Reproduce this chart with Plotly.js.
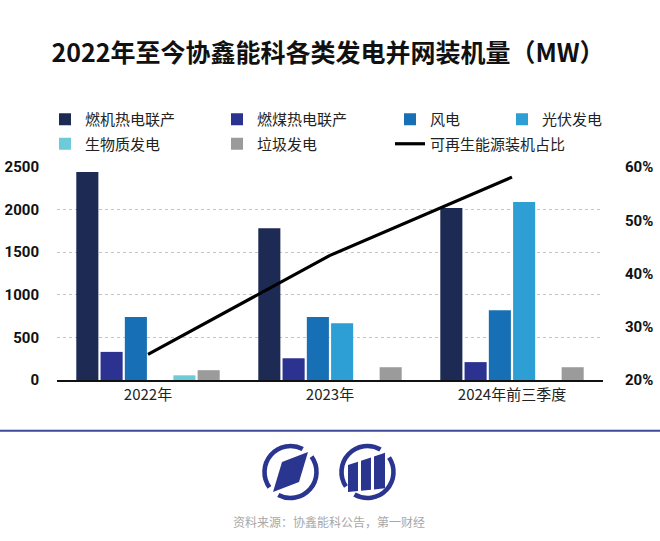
<!DOCTYPE html>
<html>
<head>
<meta charset="utf-8">
<script src="https://cdn.plot.ly/plotly-3.0.1.min.js"></script>
<style>
html,body{margin:0;padding:0;background:#fff;}
#chart{width:660px;height:541px;}
</style>
</head>
<body>
<div id="chart"></div>
<script>
// ---- data ----
const categories = ["2022年", "2023年", "2024年前三季度"];
const gasCHP   = [2440, 1780, 2020];   // 燃机热电联产
const coalCHP  = [330, 255, 210];      // 燃煤热电联产
const wind     = [740, 740, 820];      // 风电
const solar    = [null, 665, 2090];    // 光伏发电
const biomass  = [55, null, null];     // 生物质发电
const waste    = [115, 150, 150];      // 垃圾发电
const renewShare = [24.8, 43.4, 58.1]; // 可再生能源装机占比 (%)
const seriesNames = ["燃机热电联产", "燃煤热电联产", "风电", "光伏发电", "生物质发电", "垃圾发电", "可再生能源装机占比"];
const leftTicks = [0, 500, 1000, 1500, 2000, 2500];
const rightTicks = [20, 30, 40, 50, 60];
const rightTickLabels = ["20%", "30%", "40%", "50%", "60%"];

// ---- styling ----
const colors = ["#1d2a54", "#2b3290", "#1770b5", "#2e9fd5", "#6dcbd9", "#9b9b9b"];
const cjk = '"Noto Sans CJK SC", "Noto Sans", sans-serif';
const seriesValues = [gasCHP, coalCHP, wind, solar, biomass, waste];
const legendOf = ["legend", "legend2", "legend3", "legend4", "legend", "legend2"];

const traces = seriesValues.map((vals, i) => ({
  type: "bar",
  name: seriesNames[i],
  x: categories,
  y: vals,
  marker: {color: colors[i]},
  legend: legendOf[i],
  legendgroup: "g" + i,
  hoverinfo: "x+y+name"
}));
traces.push({
  type: "scatter",
  mode: "lines",
  name: seriesNames[6],
  x: categories,
  y: renewShare,
  yaxis: "y2",
  line: {color: "#000000", width: 3.2},
  legend: "legend3",
  legendgroup: "g6"
});

// ---- logo images (decorative) ----
function ring(gapA, gapB, half) {
  const r = 26, c = 30;
  const pt = a => [c + r * Math.cos(a * Math.PI / 180), c + r * Math.sin(a * Math.PI / 180)];
  const arc = (a1, a2) => {
    const p1 = pt(a1), p2 = pt(a2);
    const large = ((a2 - a1 + 360) % 360) > 180 ? 1 : 0;
    return `M${p1[0].toFixed(2)},${p1[1].toFixed(2)} A${r},${r} 0 ${large} 1 ${p2[0].toFixed(2)},${p2[1].toFixed(2)}`;
  };
  return arc(gapA + half, gapB - half) + " " + arc(gapB + half, gapA + 360 - half);
}
const navy = "#2a3590";
const logo1 = `<svg xmlns="http://www.w3.org/2000/svg" width="60" height="60" viewBox="0 0 60 60">
<path d="${ring(-49, 131, 13)}" fill="none" stroke="${navy}" stroke-width="4.6"/>
<path d="M21.5,20 L47.5,10 L38.5,40 L12.5,50 Z" fill="${navy}"/>
</svg>`;
const logo2 = `<svg xmlns="http://www.w3.org/2000/svg" width="60" height="60" viewBox="0 0 60 60">
<path d="${ring(-47, 133, 13)}" fill="none" stroke="${navy}" stroke-width="4.6"/>
<path d="M10.5,23 L20.5,19.7 L20.5,49 L10.5,50 Z" fill="${navy}"/>
<path d="M23.5,18.7 L33.5,15.4 L33.5,47.7 L23.5,48.7 Z" fill="${navy}"/>
<path d="M36.5,14.4 L47.5,10.8 L47.5,46.3 L36.5,47.4 Z" fill="${navy}"/>
</svg>`;
const svgUri = s => "data:image/svg+xml;charset=utf-8," + encodeURIComponent(s);

// pixel helpers for decorative placement (plot area: x 57..603, y 167..380)
const L = 57, R = 603, T = 167, B = 380;
const px = x => (x - L) / (R - L);
const py = y => (B - y) / (B - T);

const legendBase = {
  orientation: "v",
  xanchor: "left",
  yanchor: "top",
  bgcolor: "rgba(0,0,0,0)",
  borderwidth: 0,
  font: {family: cjk, size: 15, color: "#222222"},
  tracegroupgap: 2,
  traceorder: "grouped",
  y: py(103)
};

const layout = {
  width: 660,
  height: 541,
  margin: {l: L, r: 660 - R, t: T, b: 541 - B, pad: 0},
  paper_bgcolor: "#ffffff",
  plot_bgcolor: "#ffffff",
  font: {family: cjk, color: "#222222"},
  title: {
    text: "2022年至今协鑫能科各类发电并网装机量（MW）",
    font: {family: cjk, size: 25, weight: 700, color: "#111111"},
    x: 0.497, xref: "container", xanchor: "center",
    y: 1 - 53 / 541, yref: "container", yanchor: "middle"
  },
  barmode: "group",
  bargap: 0.2,
  bargroupgap: 0.09,
  showlegend: true,
  legend:  Object.assign({}, legendBase, {x: px(45)}),
  legend2: Object.assign({}, legendBase, {x: px(217)}),
  legend3: Object.assign({}, legendBase, {x: px(390)}),
  legend4: Object.assign({}, legendBase, {x: px(502)}),
  xaxis: {
    type: "category",
    showline: true,
    linecolor: "#111111",
    linewidth: 1.5,
    ticks: "",
    showgrid: false,
    zeroline: false,
    tickfont: {family: cjk, size: 15, color: "#222222"},
    fixedrange: true
  },
  yaxis: {
    range: [0, 2500],
    tickmode: "array",
    tickvals: leftTicks,
    showgrid: true,
    gridcolor: "#c4c4c4",
    gridwidth: 1,
    griddash: "3px,3px",
    zeroline: false,
    showline: false,
    ticks: "",
    ticklabelstandoff: 17,
    tickfont: {family: "Roboto, sans-serif", size: 15, weight: 700, color: "#111111"},
    fixedrange: true
  },
  yaxis2: {
    overlaying: "y",
    side: "right",
    range: [20, 60],
    tickmode: "array",
    tickvals: rightTicks,
    ticktext: rightTickLabels,
    showgrid: false,
    zeroline: false,
    showline: false,
    ticks: "",
    ticklabelstandoff: 21,
    tickfont: {family: "Roboto, sans-serif", size: 15, weight: 700, color: "#111111"},
    fixedrange: true
  },
  shapes: [
    {type: "line", xref: "paper", yref: "paper", x0: px(0), x1: px(660), y0: py(430.7), y1: py(430.7),
     line: {color: "#3b4b9b", width: 2}}
  ],
  images: [
    {source: svgUri(logo1), xref: "paper", yref: "paper", x: px(260.5), y: py(442), sizex: 60 / (R - L), sizey: 60 / (B - T),
     xanchor: "left", yanchor: "top", sizing: "stretch", layer: "above"},
    {source: svgUri(logo2), xref: "paper", yref: "paper", x: px(337.5), y: py(442), sizex: 60 / (R - L), sizey: 60 / (B - T),
     xanchor: "left", yanchor: "top", sizing: "stretch", layer: "above"}
  ],
  annotations: [
    {text: "资料来源：协鑫能科公告，第一财经", xref: "paper", yref: "paper", x: px(329), y: py(521),
     xanchor: "center", yanchor: "middle", showarrow: false,
     font: {family: cjk, size: 12, color: "#a8a8a8"}}
  ]
};

Plotly.newPlot("chart", traces, layout, {displayModeBar: false, staticPlot: false});
</script>
</body>
</html>
